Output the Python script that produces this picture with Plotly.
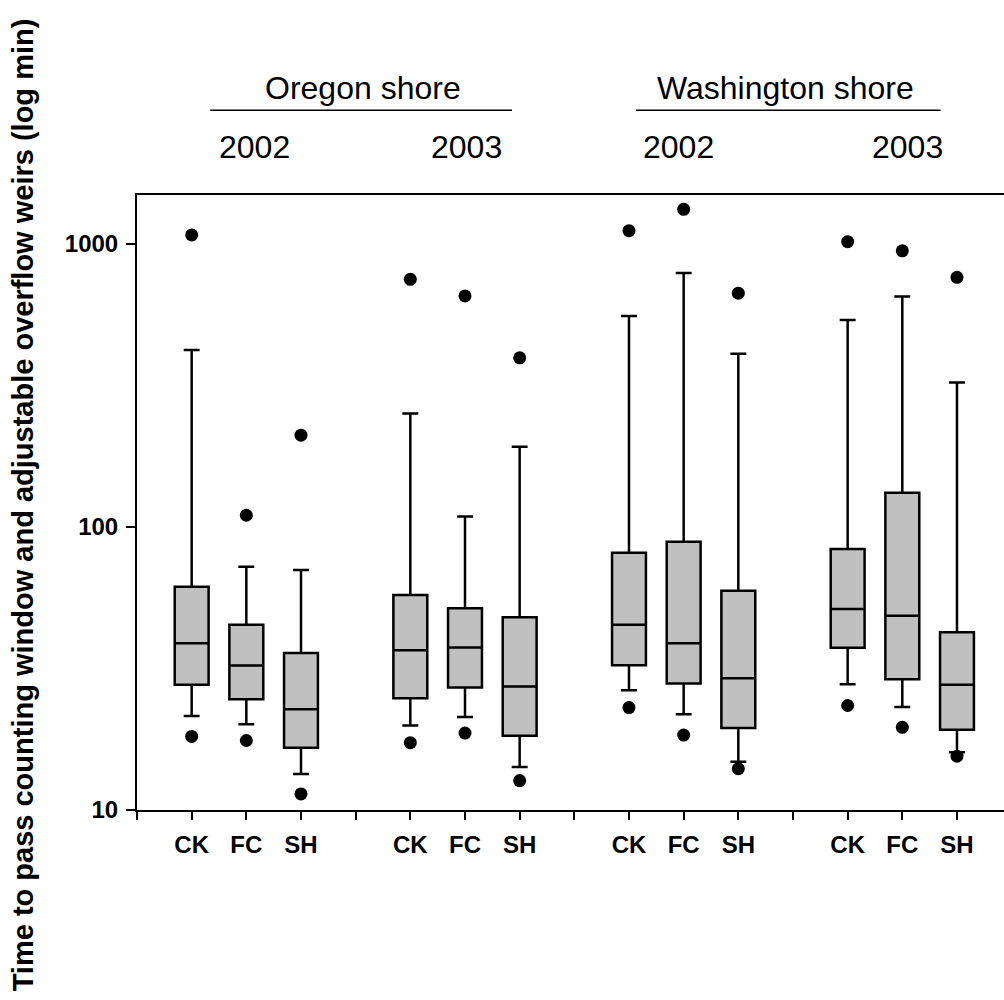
import plotly.graph_objects as go

# ---- data (minutes, log scale) ----
species = ["CK", "FC", "SH"]
groups = ["Oregon 2002", "Oregon 2003", "Washington 2002", "Washington 2003"]

q1 = [27.7, 24.6, 16.6,   24.8, 27.1, 18.3,   32.5, 28.0, 19.5,   37.4, 29.0, 19.2]
median = [38.8, 32.4, 22.7, 36.7, 37.5, 27.3, 45.1, 38.8, 29.2, 51.3, 48.6, 27.7]
q3 = [61.5, 45.1, 35.9,   57.5, 51.6, 48.0,   81.1, 88.7, 59.5,   83.6, 132.0, 42.5]
lower_whisker = [21.5, 20.1, 13.4, 19.9, 21.3, 14.2, 26.5, 21.8, 14.8, 27.8, 23.1, 16.0]
upper_whisker = [422, 72.4, 70.5, 252, 109, 192, 557, 790, 409, 539, 652, 324]
outlier_high = [1076, 110, 211, 750, 655, 396, 1114, 1326, 670, 1019, 946, 762]
outlier_low = [18.2, 17.6, 11.4, 17.3, 18.7, 12.7, 23.0, 18.4, 14.0, 23.4, 19.6, 15.5]

shore_labels = ["Oregon shore", "Washington shore"]
year_labels = ["2002", "2003", "2002", "2003"]
y_tick_vals = [10, 100, 1000]
y_title = "Time to pass counting window and adjustable overflow weirs (log min)"

# ---- positions on a numeric axis ----
positions = []
labels = []
for g in range(len(groups)):
    for s in range(len(species)):
        positions.append(g * 4 + s + 1)
        labels.append(species[s])
tick_vals = list(range(0, 16))
tick_text = [labels[positions.index(v)] if v in positions else "" for v in tick_vals]

FONT = "Liberation Sans, Arial, sans-serif"

fig = go.Figure()
fig.add_trace(go.Box(
    x=positions, q1=q1, median=median, q3=q3,
    lowerfence=lower_whisker, upperfence=upper_whisker,
    boxpoints=False, width=0.62, whiskerwidth=0.47,
    fillcolor="#c0c0c0", line=dict(color="black", width=2.5),
    showlegend=False, hoverinfo="skip",
))
fig.add_trace(go.Scatter(
    x=positions + positions, y=outlier_high + outlier_low,
    mode="markers", marker=dict(color="black", size=13),
    showlegend=False, hoverinfo="skip",
))

# top header annotations
year_x = [2.15, 6.02, 9.9, 14.1]
for xv, t in zip(year_x, year_labels):
    fig.add_annotation(x=xv, y=1.078, xref="x", yref="paper", text=t,
                       xanchor="center", yanchor="middle",
                       showarrow=False, font=dict(family=FONT, size=32, color="black"))
shore_x = [4.14, 11.86]
for xv, t in zip(shore_x, shore_labels):
    fig.add_annotation(x=xv, y=1.174, xref="x", yref="paper", text=t,
                       xanchor="center", yanchor="middle",
                       showarrow=False, font=dict(family=FONT, size=32, color="black"))
for x0, x1 in [(1.34, 6.86), (9.13, 14.7)]:
    fig.add_shape(type="line", x0=x0, x1=x1, y0=1.138, y1=1.138, xref="x", yref="paper",
                  line=dict(color="black", width=1.5))

fig.add_annotation(x=-0.1315, y=0.497, xref="paper", yref="paper", text="<b>" + y_title + "</b>",
                   textangle=-90, showarrow=False, xanchor="center", yanchor="middle",
                   font=dict(family=FONT, size=29, color="black"))

fig.update_layout(
    width=1004, height=1000,
    margin=dict(l=137, r=0, t=195, b=190),
    plot_bgcolor="white", paper_bgcolor="white",
    font=dict(family=FONT, color="black"),
)
fig.update_xaxes(
    range=[0, 15.86], tickvals=tick_vals, ticktext=tick_text,
    ticks="outside", ticklen=8, tickwidth=2, tickcolor="black",
    showline=True, linecolor="black", linewidth=2, mirror=True,
    showgrid=False, zeroline=False, ticklabelstandoff=4,
    tickfont=dict(family=FONT, size=24, color="black", weight="bold"),
)
fig.update_yaxes(
    type="log", range=[1, 3.173], tickvals=y_tick_vals, ticktext=[str(v) for v in y_tick_vals],
    ticks="outside", ticklen=9, tickwidth=2, tickcolor="black",
    showline=True, linecolor="black", linewidth=2, mirror=False,
    showgrid=False, zeroline=False, ticklabelstandoff=3,
    tickfont=dict(family=FONT, size=24, color="black", weight="bold"),
)

fig.write_html("out.html")
